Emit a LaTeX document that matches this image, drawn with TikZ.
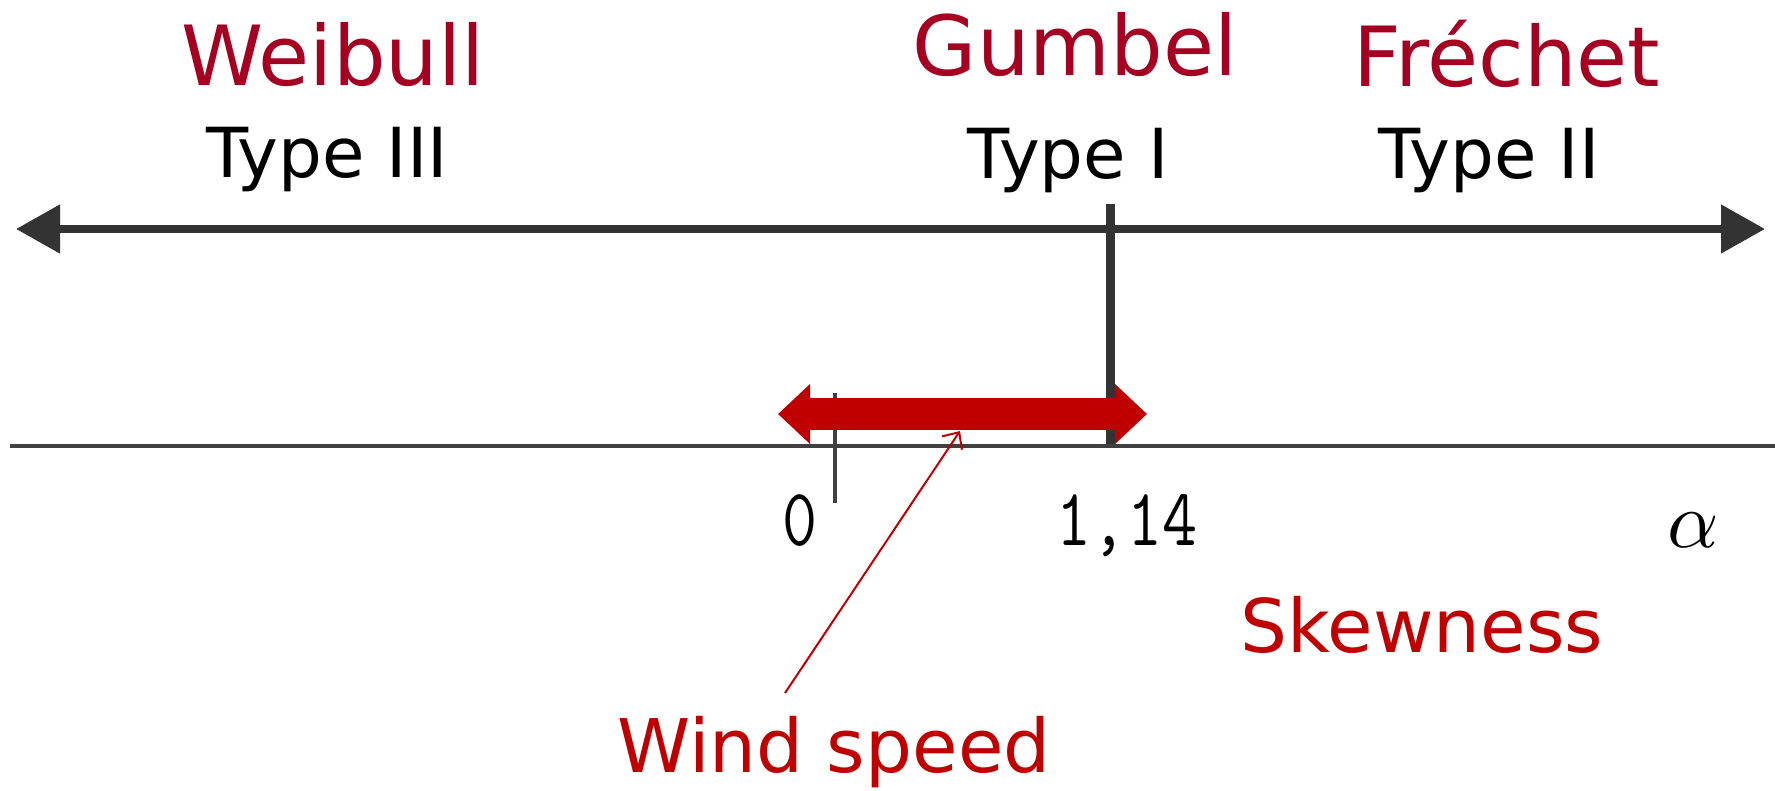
\documentclass[tikz,border=0pt]{standalone}
\usepackage{fontspec}
\setmainfont{DejaVu Sans}
\usetikzlibrary{arrows.meta}
\definecolor{distred}{HTML}{A50021}
\definecolor{brightred}{HTML}{C00000}
\definecolor{axisgray}{HTML}{333333}
\definecolor{thingray}{HTML}{404040}
\tikzset{
  dist/.style={anchor=base, inner sep=0pt, text=distred, font=\fontsize{83}{96}\selectfont},
  typelbl/.style={anchor=base, inner sep=0pt, text=black, font=\fontsize{69}{80}\selectfont},
  note/.style={anchor=base, inner sep=0pt, text=brightred, font=\fontsize{74}{88}\selectfont},
  num/.style={anchor=base, inner sep=0pt, text=black, font=\ttfamily\fontsize{68}{80}\selectfont},
  mainaxis/.style={draw=axisgray, line width=8pt, {Triangle[length=44pt,width=47pt]}-{Triangle[length=44pt,width=47pt]}},
  thinaxis/.style={draw=thingray, line width=4pt},
  rangearrow/.style={draw=brightred, line width=32pt, {Triangle[length=32pt,width=58pt]}-{Triangle[length=32pt,width=58pt]}},
  pointer/.style={draw=brightred, line width=2pt, -{Straight Barb[length=13pt,width=24pt,line width=2pt]}}
}
\begin{document}
\begin{tikzpicture}[x=1pt,y=-1pt]
\useasboundingbox[fill=white] (0,0) rectangle (1775,790);
% coordinates
\coordinate (topL) at (16,229);
\coordinate (topR) at (1765,229);
\coordinate (gTop) at (1110,204);
\coordinate (gBot) at (1110,444);
\coordinate (botL) at (10,446);
\coordinate (botR) at (1775,446);
\coordinate (tickT) at (835,393);
\coordinate (tickB) at (835,503);
\coordinate (rangeL) at (778,414);
\coordinate (rangeR) at (1147,414);
\coordinate (ptrTail) at (785,693);
\coordinate (ptrHead) at (960,431);
% axes
\draw[thinaxis] (botL) -- (botR);
\draw[draw=thingray, line width=3.5pt] (tickT) -- (tickB);
\draw[mainaxis] (topL) -- (topR);
\draw[draw=axisgray, line width=9pt] (gTop) -- (gBot);
\draw[rangearrow] (rangeL) -- (rangeR);
\draw[pointer] (ptrTail) -- (ptrHead);
% labels
\node[dist] (weibull) at (333,85) {Weibull};
\node[dist] (gumbel) at (1075,75) {Gumbel};
\node[dist] (frechet) at (1507,86) {Fréchet};
\node[typelbl] (t3) at (327,177) {Type III};
\node[typelbl] (t1) at (1068,178) {Type I};
\node[typelbl] (t2) at (1489,178) {Type II};
\node[num] (zero) at (800,545) {\scalebox{1}[1.2]{0}};
\node[num] (onefourteen) at (1127,545) {\scalebox{1}[1.2]{1,14}};
\node[anchor=base, inner sep=0pt] (alpha) at (1693,547) {\scalebox{8}{$\alpha$}};
\node[note] (skew) at (1422,652) {Skewness};
\node[note] (wind) at (834,772) {Wind speed};
\end{tikzpicture}
\end{document}
